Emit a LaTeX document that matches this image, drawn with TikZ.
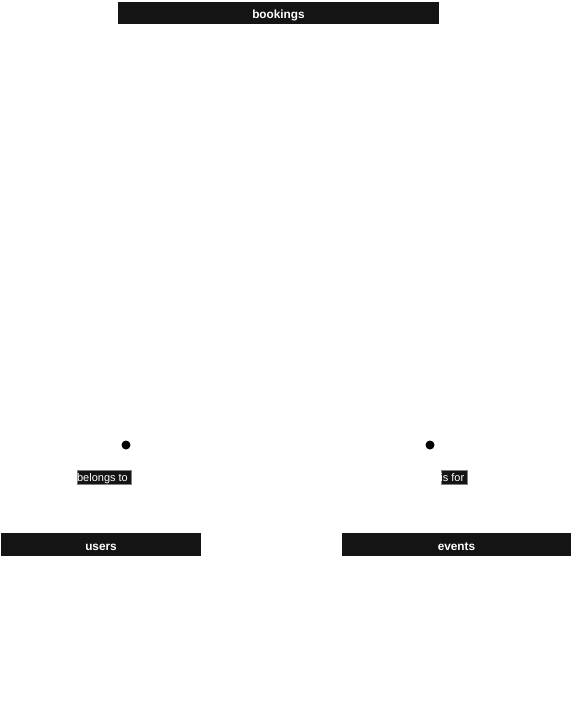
\documentclass[tikz,border=0pt]{standalone}
\usepackage{fontspec}
\setmainfont{Liberation Sans}
\begin{document}
\begin{tikzpicture}[x=1pt,y=-1pt,
  tbl/.style={draw=none,fill=hdr,text=white,font=\bfseries\fontsize{11.8}{13}\selectfont,inner sep=0pt,text depth=6pt,anchor=center},
  relbox/.style={fill=hdr,draw=gray,line width=0.8pt,inner sep=0pt,anchor=center},
  reltext/.style={text=white,font=\fontsize{11}{12}\selectfont,inner sep=0pt,text height=10.3pt,text depth=3.3pt,anchor=center},
  dotst/.style={circle,fill=black,inner sep=0pt,minimum size=9pt}]
\definecolor{hdr}{HTML}{141414}
\useasboundingbox (0,0) rectangle (572,705);
\node[tbl,text width=321pt,align=center,text height=16pt] (bookings) at (278.5,13) {bookings};
\node[tbl,text width=200pt,align=center,text height=17pt] (users) at (101,544.75) {users};
\node[tbl,text width=229pt,align=center,text height=17pt] (events) at (456.5,544.75) {events};
\node[dotst] (d1) at (126,445) {};
\node[dotst] (d2) at (430,445) {};
\node[relbox,minimum width=54pt,minimum height=13.6pt] (r1) at (104,477.5) {};
\node[reltext] (r1t) at (102.5,477.5) {belongs to};
\node[relbox,minimum width=26pt,minimum height=13.6pt] (r2) at (454,477.5) {};
\begin{scope}
\clip (r2.south west) rectangle (r2.north east);
\node[reltext] (r2t) at (452.3,477.5) {is for};
\end{scope}
\end{tikzpicture}
\end{document}
